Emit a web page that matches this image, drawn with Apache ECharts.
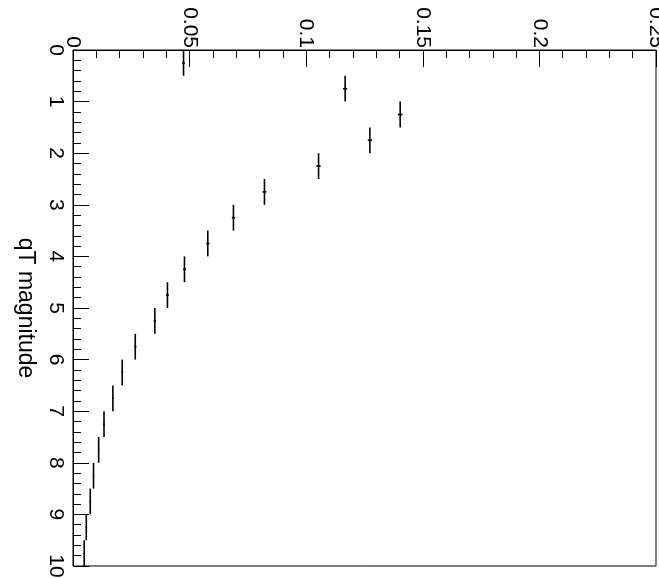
<!DOCTYPE html>
<html>
<head>
<meta charset="utf-8">
<script src="https://cdn.jsdelivr.net/npm/echarts@6/dist/echarts.min.js"></script>
<style>
html,body{margin:0;padding:0;background:#fff;}
#chart{width:659px;height:579px;}
</style>
</head>
<body>
<div id="chart"></div>
<script>
// Histogram bins (qT magnitude), bin width 0.5
var binLow  = [0, 0.5, 1, 1.5, 2, 2.5, 3, 3.5, 4, 4.5, 5, 5.5, 6, 6.5, 7, 7.5, 8, 8.5, 9, 9.5];
var binHigh = [0.5, 1, 1.5, 2, 2.5, 3, 3.5, 4, 4.5, 5, 5.5, 6, 6.5, 7, 7.5, 8, 8.5, 9, 9.5, 10];
var values  = [0.0474, 0.1167, 0.1403, 0.1273, 0.1053, 0.0821, 0.0688, 0.0578, 0.0478, 0.0405,
               0.0351, 0.0267, 0.0211, 0.0171, 0.0133, 0.0110, 0.0088, 0.0074, 0.0057, 0.0048];
var errors  = [0.0006, 0.0009, 0.0010, 0.0009, 0.0009, 0.0008, 0.0007, 0.0007, 0.0006, 0.0006,
               0.0005, 0.0005, 0.0004, 0.0004, 0.0004, 0.0003, 0.0003, 0.0003, 0.0003, 0.0002];
var valueTicks = ['0', '0.05', '0.1', '0.15', '0.2', '0.25'];
var axisTitle = 'qT magnitude';

var data = values.map(function (v, i) {
  return [v, binLow[i], binHigh[i], errors[i]];
});

var chart = echarts.init(document.getElementById('chart'), null, {renderer: 'canvas'});
var font = 'Liberation Sans, Arial, Helvetica, sans-serif';

chart.setOption({
  backgroundColor: '#ffffff',
  animation: false,
  grid: {left: 73, top: 50, right: 3, bottom: 13, containLabel: false, outerBoundsMode: 'none',
         show: true, borderColor: '#000', borderWidth: 1, backgroundColor: 'transparent'},
  xAxis: {
    type: 'value', position: 'top', min: 0, max: 0.25, interval: 0.05,
    axisLine: {show: true, lineStyle: {color: '#000', width: 1}},
    axisTick: {show: true, inside: true, length: 17, lineStyle: {color: '#000'}},
    minorTick: {show: true, splitNumber: 5, length: 8, lineStyle: {color: '#000'}},
    splitLine: {show: false},
    axisLabel: {
      rotate: -90, margin: 2, color: '#000', fontSize: 21, fontFamily: font,
      showMinLabel: true, showMaxLabel: true, hideOverlap: false,
      formatter: function (v) {
        var idx = Math.round(v / 0.05);
        return valueTicks[idx] !== undefined ? valueTicks[idx] : '';
      }
    }
  },
  yAxis: {
    type: 'value', inverse: true, min: 0, max: 10, interval: 1,
    name: axisTitle, nameLocation: 'middle', nameRotate: -90, nameGap: 30,
    nameTextStyle: {color: '#000', fontSize: 23, fontFamily: font},
    axisLine: {show: true, lineStyle: {color: '#000', width: 1}},
    axisTick: {show: true, inside: true, length: 16, lineStyle: {color: '#000'}},
    minorTick: {show: true, splitNumber: 5, length: 8, lineStyle: {color: '#000'}},
    splitLine: {show: false},
    axisLabel: {rotate: -90, margin: 7, color: '#000', fontSize: 21, fontFamily: font,
                showMinLabel: true, showMaxLabel: true, hideOverlap: false}
  },
  series: [{
    type: 'custom',
    data: data,
    clip: false,
    encode: {x: 0, y: [1, 2]},
    renderItem: function (params, api) {
      var v = api.value(0), lo = api.value(1), hi = api.value(2), e = api.value(3);
      var mid = (lo + hi) / 2;
      var p1 = api.coord([v, lo]);
      var p2 = api.coord([v, hi]);
      var e1 = api.coord([v - e, mid]);
      var e2 = api.coord([v + e, mid]);
      var style = {stroke: '#000', lineWidth: 1.6};
      return {
        type: 'group',
        children: [
          {type: 'line', shape: {x1: p1[0], y1: p1[1], x2: p2[0], y2: p2[1]}, style: style},
          {type: 'line', shape: {x1: e1[0], y1: e1[1], x2: e2[0], y2: e2[1]}, style: style}
        ]
      };
    }
  }]
});
</script>
</body>
</html>
